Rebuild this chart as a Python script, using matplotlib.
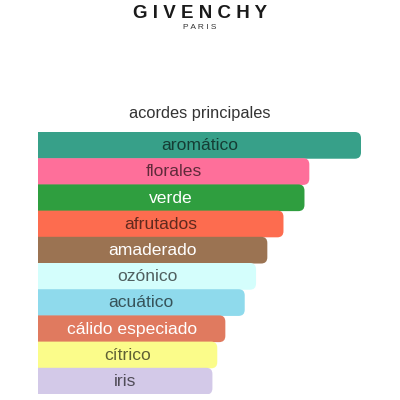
import matplotlib
matplotlib.use("Agg")
import matplotlib.pyplot as plt
from matplotlib.patches import FancyBboxPatch

plt.rcParams['font.family'] = ['Liberation Sans', 'DejaVu Sans']

# acordes principales (ancho relativo, 100 = el mayor)
acordes = ['aromático', 'florales', 'verde', 'afrutados', 'amaderado',
           'ozónico', 'acuático', 'cálido especiado', 'cítrico', 'iris']
valores = [100, 84, 82.5, 76, 71, 67.5, 64, 58, 55.5, 54]
colores = ['#37A089', '#FE6F9A', '#2F9E3F', '#FD6C4F', '#9B7352',
           '#D4FEFC', '#8FDAEC', '#E07A5F', '#FBFC8A', '#D3C9E8']
texto_blanco = ['verde', 'amaderado', 'cálido especiado']

fig = plt.figure(figsize=(4, 4), dpi=100)
fig.patch.set_facecolor('white')

# logo y título
fig.text(0.5, 0.967, 'G I V E N C H Y', ha='center', va='center',
         fontsize=13.5, fontweight='bold', color='#1a1a1a')
fig.text(0.5, 0.932, 'P A R I S', ha='center', va='center',
         fontsize=6, color='#333333')
fig.text(0.5, 0.716, 'acordes principales', ha='center', va='center',
         fontsize=11.8, color='#333333')

ax = fig.add_axes([38 / 400, 6 / 400, 323 / 400, 262 / 400])
ax.set_xlim(0, 100)
ax.set_ylim(len(acordes) - 0.5, -0.5)
ax.axis('off')

rx = 1.9
for i, (nombre, v, c) in enumerate(zip(acordes, valores, colores)):
    caja = FancyBboxPatch((-5, i - 0.5), v + 5, 1.02,
                          boxstyle='round,pad=0,rounding_size=%.2f' % rx,
                          mutation_aspect=0.125,
                          facecolor=c, edgecolor='none', zorder=i)
    ax.add_patch(caja)
    if nombre in texto_blanco:
        col, alpha = 'white', 1.0
    else:
        col, alpha = 'black', 0.62
    ax.text(v / 2, i + 0.02, nombre, ha='center', va='center',
            fontsize=12.6, color=col, alpha=alpha, zorder=20)

fig.savefig('out.png', dpi=100, facecolor='white')
